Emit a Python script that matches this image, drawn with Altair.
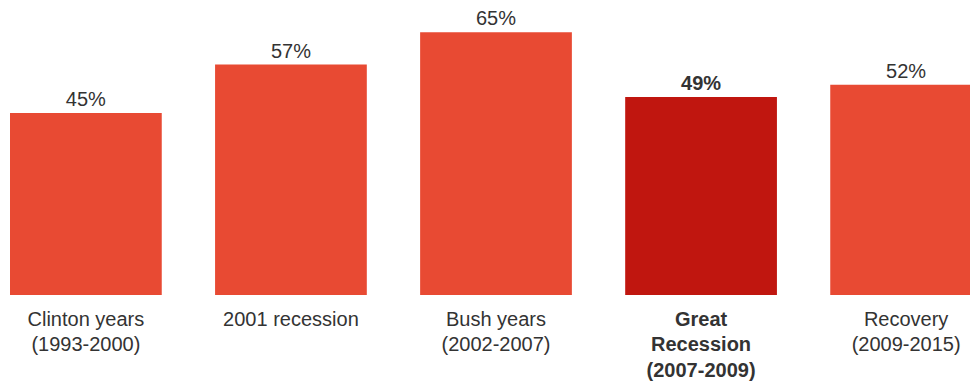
import altair as alt
import pandas as pd

categories = [
    "Clinton years|(1993-2000)",
    "2001 recession",
    "Bush years|(2002-2007)",
    "Great|Recession|(2007-2009)",
    "Recovery|(2009-2015)",
]
values = [45, 57, 65, 49, 52]
highlight = [False, False, False, True, False]

df = pd.DataFrame({
    "period": categories,
    "share": values,
    "hl": highlight,
    "label": [f"{v}%" for v in values],
})

x_enc = alt.X(
    "period:N",
    sort=categories,
    scale=alt.Scale(range=[0, 992], paddingInner=0.26, paddingOuter=0.0488),
    axis=alt.Axis(
        title=None,
        domain=False,
        ticks=False,
        grid=False,
        labelAngle=0,
        labelExpr="split(datum.value, '|')",
        labelFont="Liberation Sans",
        labelFontSize=20,
        labelColor="#333333",
        labelLineHeight=25.5,
        labelBaseline="alphabetic",
        labelPadding=30,
        labelFontWeight={"condition": {"test": "indexof(datum.value, 'Great') >= 0", "value": "bold"}, "value": "normal"},
        labelOverlap=False,
        labelLimit=0,
    ),
)
y_enc = alt.Y("share:Q", scale=alt.Scale(domain=[0, 70]), axis=None)

bars = alt.Chart(df).mark_bar(clip=True).encode(
    x=x_enc,
    y=y_enc,
    color=alt.Color(
        "hl:N",
        scale=alt.Scale(domain=[False, True], range=["#E84A33", "#C0160F"]),
        legend=None,
    ),
)

text_normal = alt.Chart(df).transform_filter("!datum.hl").mark_text(
    dy=-7, baseline="alphabetic", font="Liberation Sans", fontSize=20, color="#333333"
).encode(
    x=alt.X("period:N", sort=categories),
    y=alt.Y("share:Q"),
    text="label:N",
)

text_bold = alt.Chart(df).transform_filter("datum.hl").mark_text(
    dy=-7, baseline="alphabetic", font="Liberation Sans", fontSize=20,
    fontWeight="bold", color="#333333"
).encode(
    x=alt.X("period:N", sort=categories),
    y=alt.Y("share:Q"),
    text="label:N",
)

chart = (
    alt.layer(bars, text_normal, text_bold)
    .properties(
        width=970,
        height=283,
        padding={"left": 0, "top": 12, "right": 0, "bottom": 86},
        autosize=alt.AutoSizeParams(type="none"),
        background="white",
    )
    .configure_view(stroke=None)
)

chart.save("out.html", embed_options={"renderer": "svg", "actions": False})
